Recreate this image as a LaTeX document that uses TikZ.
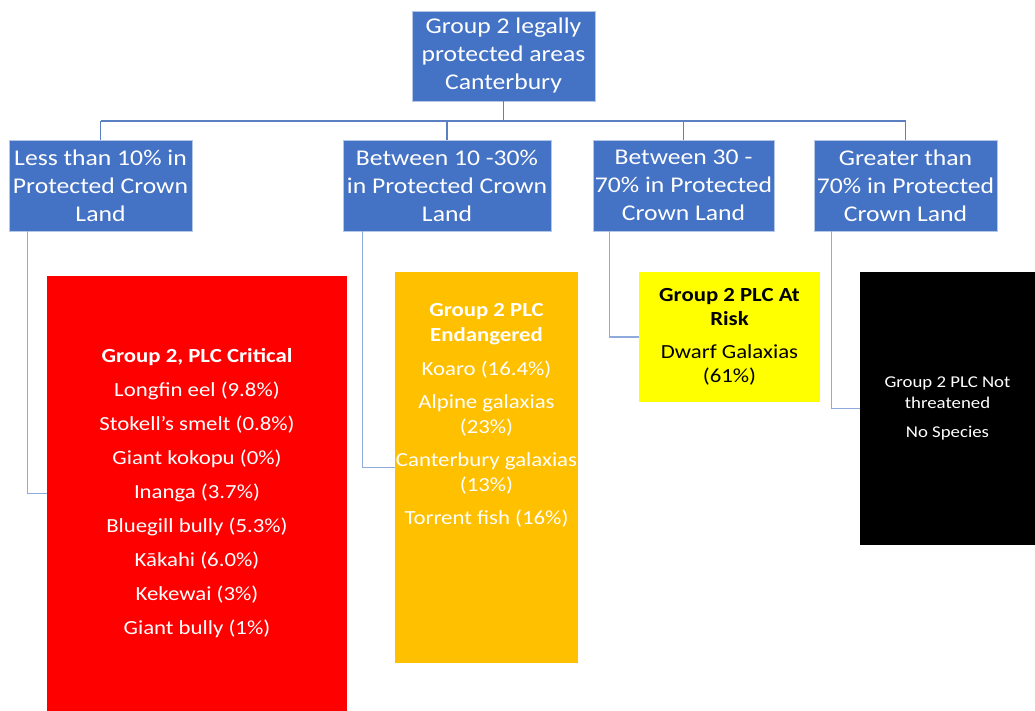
\documentclass[tikz,border=0pt]{standalone}
\usepackage{fontspec}
\setmainfont{Carlito}[FakeStretch=1.14]
\definecolor{bl}{HTML}{4472C4}
\definecolor{bordblue}{HTML}{B4C7E7}
\definecolor{toplink}{HTML}{5B80C2}
\definecolor{elbow}{HTML}{8FAADC}
\definecolor{redc}{HTML}{FF0000}
\definecolor{orangec}{HTML}{FFC000}
\definecolor{yellowc}{HTML}{FFFF00}
\begin{document}
\begin{tikzpicture}[x=1pt,y=-1pt]
\useasboundingbox (0,0) rectangle (1035,711);
\tikzset{
  bluebox/.style={fill=bl, draw=bordblue, line width=0.8pt, text=white, align=center,
    inner sep=0pt, minimum height=91pt, font=\fontsize{22.5}{28}\selectfont},
  leafbox/.style={inner sep=0pt, align=center},
  treeline/.style={draw=toplink, line width=1.3pt},
  elbowline/.style={draw=elbow, line width=1.6pt}
}
% top
\node[bluebox, minimum width=183pt, minimum height=90pt] (top) at (503.5,56) {Group 2 legally\\protected areas\\Canterbury};
% level 2
\node[bluebox, minimum width=183pt] (b1) at (100.5,185.5) {Less than 10\% in\\Protected Crown\\Land};
\node[bluebox, minimum width=208pt] (b2) at (447,185.5) {Between 10 -30\%\\in Protected Crown\\Land};
\node[bluebox, minimum width=181pt] (b3) at (683.5,185.5) {Between 30 -\\70\% in Protected\\Crown Land};
\node[bluebox, minimum width=183pt] (b4) at (905.5,185.5) {Greater than\\70\% in Protected\\Crown Land};
% leaves
\node[leafbox, fill=redc, text=white, minimum width=300pt, minimum height=435pt,
  font=\fontsize{20}{34}\selectfont] (red) at (197,493.5)
  {\textbf{Group 2, PLC Critical}\\Longfin eel (9.8\%)\\Stokell’s smelt (0.8\%)\\Giant kokopu (0\%)\\Inanga (3.7\%)\\Bluegill bully (5.3\%)\\Kākahi (6.0\%)\\Kekewai (3\%)\\Giant bully (1\%)};
\node[leafbox, fill=orangec, minimum width=183pt, minimum height=391pt] (orange) at (486.5,467.5) {};
\node[leafbox, text=white, font=\fontsize{20}{25}\selectfont] (orangetext) at (486.5,415.5)
  {\textbf{Group 2 PLC}\\\textbf{Endangered}\\[9pt]Koaro (16.4\%)\\[8pt]Alpine galaxias\\(23\%)\\[8pt]Canterbury galaxias\\(13\%)\\[8pt]Torrent fish (16\%)};
\node[leafbox, fill=yellowc, text=black, minimum width=181pt, minimum height=130pt,
  font=\fontsize{20}{24}\selectfont] (yellow) at (729.5,337)
  {\textbf{Group 2 PLC At}\\\textbf{Risk}\\[9pt]Dwarf Galaxias\\(61\%)};
\node[leafbox, fill=black, text=white, minimum width=175pt, minimum height=273pt,
  font=\fontsize{16.5}{21}\selectfont] (blk) at (947.5,408.5)
  {Group 2 PLC Not\\threatened\\[8pt]No Species};
% tree connectors
\coordinate (bus) at (0,121);
\draw[treeline] (top.south) -- (top.south |- bus);
\draw[treeline] (b1.north |- bus) -- (b4.north |- bus);
\draw[treeline] (b1.north |- bus) -- (b1.north);
\draw[treeline] (b2.north |- bus) -- (b2.north);
\draw[treeline] (b3.north |- bus) -- (b3.north);
\draw[treeline] (b4.north |- bus) -- (b4.north);
% elbow connectors
\draw[elbowline] ([xshift=19pt]b1.south west) |- (red.west);
\draw[elbowline] ([xshift=20pt]b2.south west) |- (orange.west);
\draw[elbowline] ([xshift=17pt]b3.south west) |- (yellow.west);
\draw[elbowline] ([xshift=18pt]b4.south west) |- (blk.west);
\end{tikzpicture}
\end{document}
